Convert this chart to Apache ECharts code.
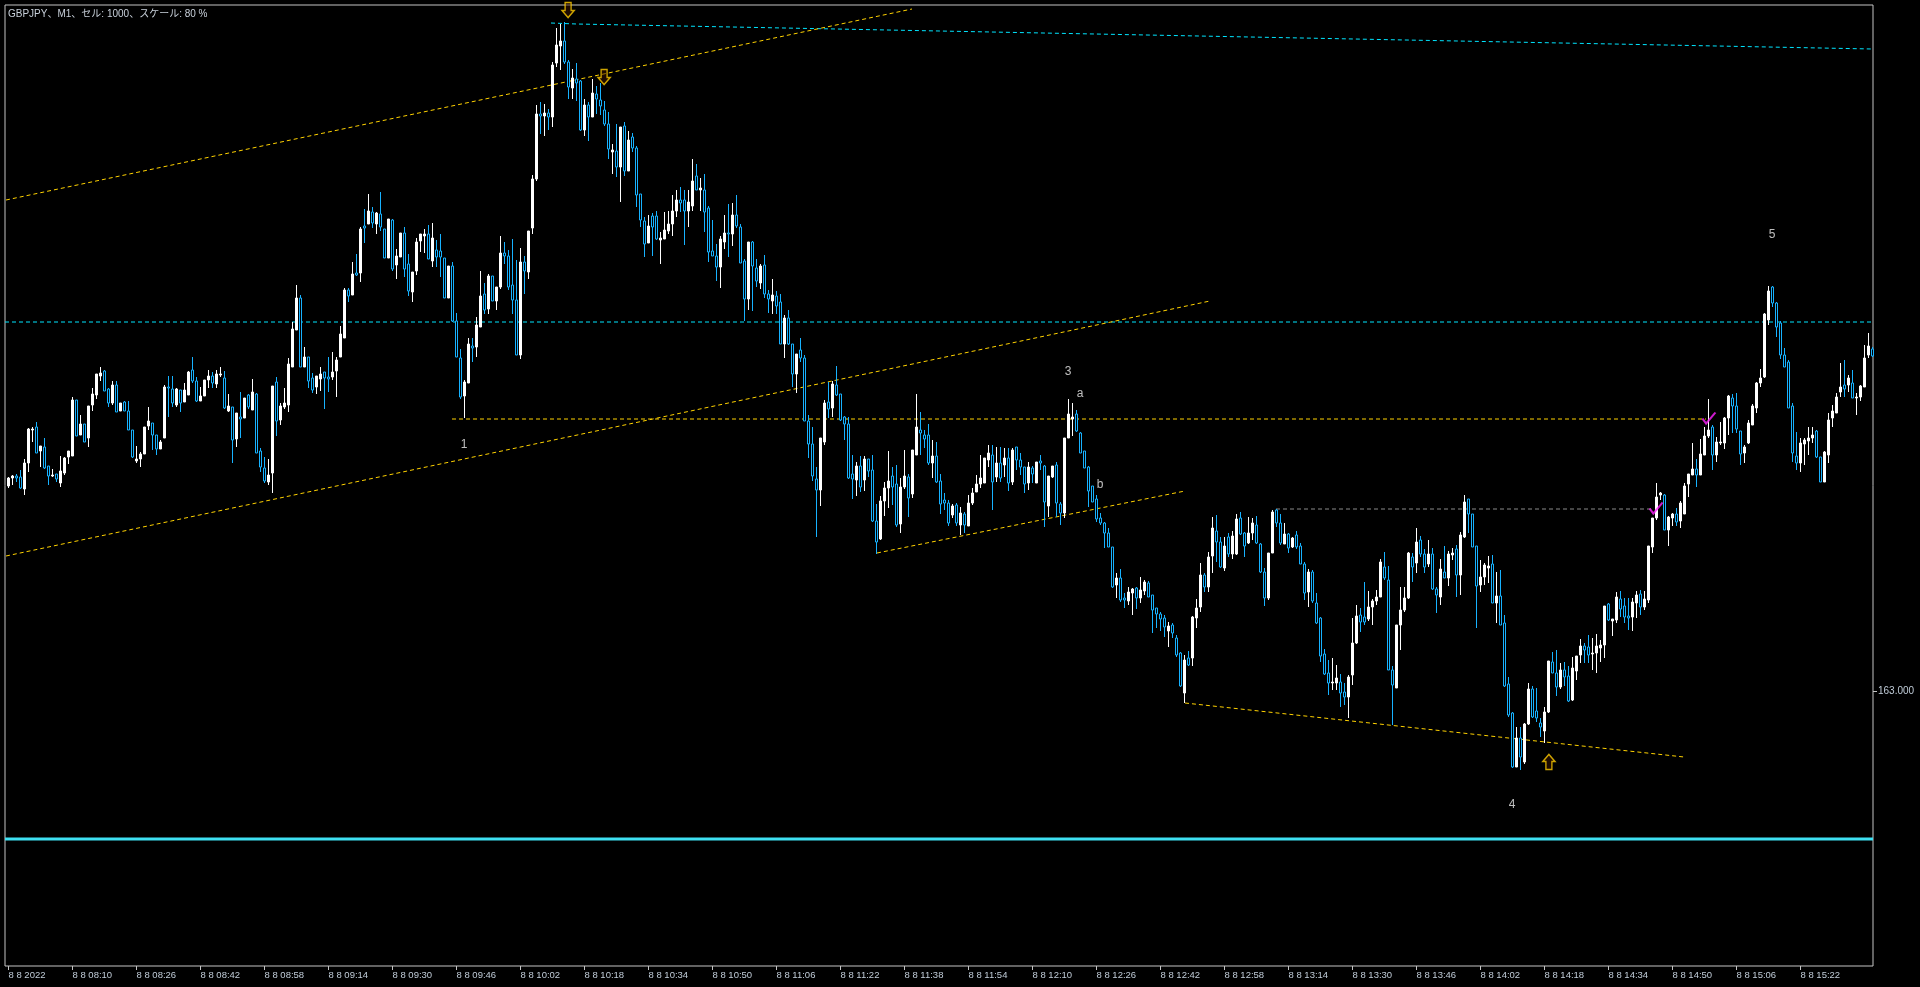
<!DOCTYPE html>
<html><head><meta charset="utf-8">
<script src="https://cdn.jsdelivr.net/npm/echarts@6/dist/echarts.min.js"></script>
<style>html,body{margin:0;padding:0;background:#000;overflow:hidden}#c{width:1920px;height:987px}</style>
</head><body><div id="c"></div>
<script>
const chartTitle = 'GBPJPY、M1、セル: 1000、スケール: 80 %';
const timeTickIndex = [0,16,32,48,64,80,96,112,128,144,160,176,192,208,224,240,256,272,288,304,320,336,352,368,384,400,416,432,448];
const timeTickLabels = ['8 8 2022','8 8 08:10','8 8 08:26','8 8 08:42','8 8 08:58','8 8 09:14','8 8 09:30','8 8 09:46','8 8 10:02','8 8 10:18','8 8 10:34','8 8 10:50','8 8 11:06','8 8 11:22','8 8 11:38','8 8 11:54','8 8 12:10','8 8 12:26','8 8 12:42','8 8 12:58','8 8 13:14','8 8 13:30','8 8 13:46','8 8 14:02','8 8 14:18','8 8 14:34','8 8 14:50','8 8 15:06','8 8 15:22'];
const priceTicks = [163];
// one M1 candle per minute from 07:54: [open, close, low, high]
const candles = [
[163.205,163.213,163.203,163.214],[163.213,163.215,163.206,163.216],[163.215,163.213,163.209,163.217],[163.214,163.203,163.202,163.221],[163.202,163.228,163.196,163.232],
[163.228,163.262,163.219,163.263],[163.261,163.262,163.249,163.264],[163.264,163.238,163.238,163.269],[163.240,163.245,163.224,163.245],[163.244,163.223,163.222,163.253],
[163.225,163.215,163.206,163.225],[163.215,163.216,163.214,163.222],[163.217,163.212,163.209,163.217],[163.208,163.220,163.204,163.235],[163.218,163.233,163.216,163.234],
[163.234,163.240,163.227,163.240],[163.235,163.291,163.235,163.294],[163.291,163.255,163.255,163.291],[163.256,163.267,163.256,163.276],[163.267,163.249,163.249,163.267],
[163.253,163.285,163.244,163.285],[163.286,163.297,163.280,163.303],[163.296,163.317,163.292,163.317],[163.315,163.318,163.310,163.324],[163.320,163.300,163.300,163.321],
[163.302,163.288,163.284,163.303],[163.288,163.306,163.286,163.310],[163.306,163.279,163.279,163.310],[163.280,163.288,163.280,163.288],[163.289,163.280,163.280,163.290],
[163.280,163.261,163.261,163.290],[163.261,163.234,163.233,163.261],[163.230,163.232,163.228,163.245],[163.232,163.237,163.224,163.239],[163.237,163.264,163.237,163.264],
[163.265,163.270,163.261,163.284],[163.268,163.256,163.241,163.268],[163.256,163.242,163.236,163.256],[163.242,163.249,163.242,163.251],[163.253,163.304,163.253,163.306],
[163.304,163.303,163.274,163.315],[163.302,163.288,163.284,163.315],[163.286,163.302,163.284,163.303],[163.301,163.288,163.279,163.301],[163.289,163.301,163.289,163.308],
[163.296,163.319,163.296,163.320],[163.321,163.310,163.308,163.334],[163.310,163.290,163.289,163.314],[163.290,163.295,163.290,163.304],[163.295,163.311,163.295,163.311],
[163.311,163.315,163.303,163.321],[163.315,163.308,163.303,163.319],[163.307,163.317,163.303,163.321],[163.316,163.317,163.314,163.324],[163.313,163.283,163.282,163.320],
[163.280,163.285,163.279,163.297],[163.284,163.251,163.228,163.284],[163.252,163.278,163.244,163.278],[163.274,163.272,163.253,163.299],[163.273,163.293,163.273,163.293],
[163.296,163.284,163.282,163.297],[163.281,163.299,163.281,163.312],[163.297,163.238,163.238,163.298],[163.240,163.224,163.219,163.243],[163.223,163.210,163.208,163.234],
[163.209,163.216,163.206,163.232],[163.218,163.305,163.198,163.305],[163.309,163.270,163.255,163.314],[163.271,163.285,163.266,163.288],[163.284,163.288,163.282,163.303],
[163.286,163.327,163.279,163.333],[163.324,163.362,163.324,163.369],[163.361,163.393,163.361,163.406],[163.393,163.324,163.324,163.396],[163.324,163.334,163.324,163.344],
[163.334,163.310,163.303,163.334],[163.313,163.301,163.298,163.318],[163.304,163.315,163.297,163.315],[163.312,163.317,163.300,163.324],[163.319,163.313,163.282,163.319],
[163.314,163.312,163.299,163.334],[163.314,163.319,163.311,163.339],[163.320,163.331,163.294,163.334],[163.334,163.357,163.334,163.365],[163.353,163.401,163.353,163.403],
[163.401,163.395,163.389,163.403],[163.396,163.417,163.396,163.429],[163.418,163.416,163.415,163.437],[163.418,163.462,163.409,163.464],[163.465,163.463,163.448,163.482],
[163.467,163.480,163.467,163.497],[163.479,163.468,163.463,163.484],[163.467,163.478,163.457,163.479],[163.477,163.464,163.460,163.499],[163.462,163.433,163.433,163.462],
[163.433,163.472,163.433,163.472],[163.471,163.422,163.420,163.472],[163.426,163.435,163.412,163.442],[163.434,163.458,163.434,163.458],[163.458,163.422,163.414,163.464],
[163.427,163.400,163.395,163.437],[163.399,163.419,163.389,163.419],[163.420,163.449,163.416,163.453],[163.450,163.457,163.439,163.457],[163.455,163.457,163.438,163.462],
[163.457,163.432,163.432,163.466],[163.430,163.453,163.424,163.468],[163.441,163.434,163.424,163.451],[163.440,163.434,163.414,163.457],[163.433,163.393,163.393,163.433],
[163.393,163.425,163.393,163.425],[163.425,163.370,163.369,163.429],[163.370,163.334,163.334,163.378],[163.333,163.294,163.292,163.342],[163.295,163.309,163.273,163.311],
[163.308,163.347,163.308,163.353],[163.345,163.343,163.329,163.353],[163.344,163.366,163.334,163.374],[163.364,163.395,163.364,163.420],[163.397,163.381,163.377,163.408],
[163.382,163.415,163.377,163.417],[163.415,163.390,163.390,163.415],[163.390,163.404,163.381,163.404],[163.404,163.438,163.402,163.455],[163.438,163.435,163.427,163.449],
[163.435,163.404,163.401,163.441],[163.406,163.391,163.377,163.452],[163.391,163.336,163.336,163.431],[163.336,163.429,163.332,163.443],[163.429,163.420,163.397,163.435],
[163.419,163.460,163.412,163.460],[163.463,163.512,163.457,163.516],[163.512,163.577,163.510,163.586],[163.577,163.575,163.557,163.589],[163.575,163.578,163.555,163.587],
[163.578,163.574,163.561,163.582],[163.574,163.626,163.564,163.629],[163.628,163.646,163.624,163.663],[163.645,163.650,163.621,163.667],[163.650,163.629,163.627,163.669],
[163.629,163.604,163.592,163.631],[163.603,163.613,163.592,163.622],[163.612,163.608,163.590,163.628],[163.610,163.561,163.560,163.611],[163.561,163.586,163.555,163.592],
[163.586,163.574,163.550,163.589],[163.574,163.598,163.574,163.612],[163.597,163.592,163.577,163.605],[163.591,163.585,163.576,163.608],[163.581,163.567,163.565,163.590],
[163.567,163.542,163.532,163.579],[163.539,163.541,163.517,163.547],[163.540,163.524,163.514,163.567],[163.524,163.564,163.489,163.564],[163.565,163.520,163.515,163.569],
[163.520,163.551,163.520,163.560],[163.554,163.543,163.539,163.558],[163.543,163.496,163.484,163.545],[163.497,163.471,163.464,163.497],[163.470,163.447,163.434,163.474],
[163.448,163.465,163.448,163.476],[163.475,163.464,163.435,163.478],[163.475,163.452,163.451,163.480],[163.451,163.453,163.427,163.459],[163.452,163.461,163.452,163.479],
[163.460,163.467,163.457,163.480],[163.467,163.480,163.455,163.496],[163.480,163.491,163.474,163.501],[163.491,163.488,163.479,163.504],[163.491,163.480,163.446,163.501],
[163.480,163.489,163.464,163.501],[163.485,163.510,163.480,163.532],[163.515,163.501,163.501,163.527],[163.501,163.503,163.480,163.513],[163.501,163.479,163.459,163.517],
[163.483,163.439,163.429,163.485],[163.440,163.435,163.435,163.471],[163.435,163.424,163.410,163.447],[163.424,163.452,163.403,163.455],[163.449,163.458,163.442,163.476],
[163.458,163.457,163.434,163.487],[163.457,163.476,163.445,163.488],[163.476,163.465,163.463,163.496],[163.464,163.428,163.428,163.467],[163.430,163.392,163.370,163.432],
[163.392,163.449,163.381,163.449],[163.449,163.425,163.380,163.450],[163.423,163.410,163.404,163.432],[163.408,163.425,163.402,163.427],[163.426,163.397,163.393,163.436],
[163.397,163.392,163.378,163.401],[163.390,163.396,163.377,163.412],[163.395,163.385,163.377,163.400],[163.389,163.347,163.347,163.397],[163.347,163.373,163.333,163.376],
[163.373,163.347,163.346,163.381],[163.347,163.317,163.304,163.347],[163.317,163.337,163.298,163.337],[163.341,163.333,163.329,163.353],[163.333,163.270,163.270,163.336],
[163.270,163.247,163.233,163.276],[163.247,163.215,163.210,163.264],[163.212,163.201,163.154,163.224],[163.201,163.253,163.185,163.253],[163.249,163.288,163.246,163.291],
[163.289,163.282,163.273,163.309],[163.283,163.307,163.274,163.310],[163.306,163.296,163.295,163.325],[163.297,163.271,163.270,163.297],[163.274,163.267,163.251,163.275],
[163.267,163.213,163.212,163.274],[163.217,163.212,163.192,163.236],[163.211,163.225,163.195,163.229],[163.225,163.204,163.199,163.235],[163.211,163.232,163.200,163.235],
[163.232,163.220,163.214,163.232],[163.221,163.170,163.169,163.236],[163.170,163.149,163.137,163.187],[163.152,163.190,163.151,163.195],[163.190,163.203,163.175,163.209],
[163.203,163.210,163.183,163.240],[163.215,163.204,163.186,163.224],[163.207,163.166,163.164,163.226],[163.167,163.204,163.158,163.213],[163.204,163.215,163.202,163.241],
[163.214,163.193,163.174,163.217],[163.197,163.241,163.193,163.241],[163.236,163.264,163.236,163.297],[163.261,163.258,163.236,163.279],[163.256,163.252,163.243,163.261],
[163.256,163.228,163.226,163.267],[163.228,163.235,163.213,163.251],[163.235,163.209,163.208,163.249],[163.210,163.187,163.177,163.217],[163.191,163.188,163.181,163.198],
[163.188,163.168,163.165,163.191],[163.176,163.185,163.173,163.187],[163.186,163.168,163.165,163.188],[163.166,163.178,163.156,163.184],[163.177,163.166,163.158,163.179],
[163.165,163.188,163.165,163.196],[163.188,163.198,163.186,163.203],[163.199,163.207,163.199,163.216],[163.207,163.213,163.203,163.236],[163.208,163.233,163.208,163.233],
[163.231,163.238,163.224,163.246],[163.236,163.209,163.181,163.246],[163.214,163.228,163.209,163.244],[163.228,163.213,163.209,163.244],[163.226,163.233,163.214,163.243],
[163.233,163.208,163.200,163.243],[163.209,163.241,163.206,163.243],[163.244,163.231,163.221,163.244],[163.231,163.224,163.216,163.238],[163.224,163.207,163.198,163.224],
[163.208,163.224,163.201,163.229],[163.223,163.217,163.208,163.225],[163.208,163.229,163.208,163.229],[163.230,163.228,163.221,163.236],[163.225,163.189,163.164,163.226],
[163.185,163.215,163.174,163.215],[163.214,163.225,163.213,163.225],[163.226,163.188,163.174,163.229],[163.187,163.178,163.166,163.189],[163.178,163.253,163.173,163.253],
[163.253,163.277,163.253,163.292],[163.272,163.274,163.255,163.288],[163.277,163.260,163.259,163.281],[163.258,163.238,163.238,163.259],[163.240,163.223,163.223,163.240],
[163.224,163.200,163.184,163.225],[163.205,163.189,163.189,163.205],[163.192,163.172,163.169,163.196],[163.173,163.168,163.166,163.178],[163.168,163.158,163.143,163.169],
[163.158,163.144,163.144,163.163],[163.144,163.104,163.103,163.144],[163.106,163.113,163.093,163.118],[163.113,163.091,163.089,163.122],[163.093,163.091,163.083,163.098],
[163.090,163.099,163.086,163.104],[163.098,163.102,163.076,163.103],[163.103,163.093,163.082,163.104],[163.093,163.101,163.088,163.114],[163.100,163.109,163.096,163.111],
[163.108,163.094,163.094,163.110],[163.096,163.081,163.058,163.096],[163.083,163.077,163.063,163.083],[163.077,163.072,163.060,163.079],[163.073,163.064,163.054,163.076],
[163.060,163.065,163.044,163.069],[163.066,163.058,163.053,163.068],[163.053,163.036,163.034,163.056],[163.038,163.005,163.004,163.039],[162.998,163.031,162.988,163.036],
[163.033,163.026,163.025,163.040],[163.033,163.074,163.025,163.075],[163.073,163.083,163.063,163.092],[163.084,163.116,163.079,163.128],[163.116,163.104,163.099,163.118],
[163.104,163.134,163.099,163.139],[163.135,163.163,163.118,163.174],[163.160,163.149,163.129,163.176],[163.149,163.124,163.123,163.154],[163.123,163.145,163.120,163.154],
[163.154,163.137,163.134,163.158],[163.137,163.155,163.132,163.160],[163.137,163.172,163.136,163.177],[163.173,163.157,163.156,163.179],[163.158,163.145,163.134,163.159],
[163.148,163.158,163.147,163.174],[163.158,163.168,163.151,163.173],[163.166,163.148,163.147,163.175],[163.147,163.119,163.118,163.148],[163.119,163.093,163.085,163.123],
[163.093,163.138,163.091,163.138],[163.138,163.179,163.138,163.181],[163.181,163.168,163.164,163.182],[163.168,163.148,163.146,163.177],[163.147,163.157,163.147,163.168],
[163.157,163.143,163.138,163.158],[163.144,163.153,163.143,163.154],[163.156,163.144,163.142,163.160],[163.145,163.127,163.127,163.148],[163.127,163.098,163.091,163.129],
[163.099,163.119,163.084,163.122],[163.119,163.090,163.088,163.121],[163.088,163.068,163.067,163.098],[163.073,163.035,163.029,163.074],[163.037,163.017,163.016,163.042],
[163.018,163.008,162.996,163.031],[163.008,163.009,163.001,163.033],[163.008,163.013,163.001,163.026],[163.009,162.998,162.984,163.017],[162.999,162.994,162.986,163.008],
[162.994,163.014,162.973,163.016],[163.016,163.048,163.006,163.073],[163.048,163.075,163.047,163.086],[163.076,163.069,163.059,163.083],[163.074,163.069,163.066,163.109],
[163.072,163.084,163.070,163.100],[163.084,163.090,163.066,163.092],[163.090,163.094,163.086,163.101],[163.094,163.129,163.094,163.132],[163.124,163.113,163.111,163.139],
[163.111,163.021,163.021,163.125],[163.021,163.006,162.966,163.025],[163.003,163.066,163.003,163.066],[163.066,163.081,163.041,163.104],[163.081,163.093,163.079,163.104],
[163.093,163.138,163.092,163.139],[163.134,163.124,163.109,163.138],[163.128,163.149,163.118,163.163],[163.151,163.137,163.134,163.155],[163.137,163.124,163.118,163.142],
[163.127,163.137,163.124,163.151],[163.137,163.102,163.101,163.143],[163.102,163.096,163.078,163.104],[163.094,163.122,163.086,163.132],[163.119,163.113,163.113,163.145],
[163.113,163.137,163.105,163.140],[163.136,163.138,163.131,163.143],[163.142,163.116,163.094,163.146],[163.116,163.156,163.096,163.159],[163.154,163.189,163.153,163.196],
[163.192,163.177,163.158,163.192],[163.177,163.144,163.144,163.177],[163.145,163.105,163.063,163.145],[163.106,163.114,163.099,163.131],[163.114,163.126,163.106,163.128],
[163.123,163.125,163.108,163.135],[163.127,163.088,163.088,163.136],[163.088,163.095,163.068,163.119],[163.095,163.066,163.066,163.121],[163.068,163.005,163.004,163.076],
[163.007,162.976,162.974,163.014],[162.978,162.924,162.923,162.979],[162.924,162.953,162.924,162.964],[162.953,162.934,162.921,162.964],[162.929,162.967,162.927,162.968],
[162.967,163.002,162.966,163.008],[163.002,162.974,162.973,163.005],[162.980,162.973,162.969,163.003],[162.968,162.964,162.954,162.973],[162.960,162.979,162.948,162.984],
[162.979,163.030,162.978,163.030],[163.029,163.018,163.018,163.039],[163.018,163.004,162.995,163.041],[163.004,163.021,163.002,163.028],[163.021,163.014,163.005,163.029],
[163.015,162.990,162.989,163.025],[162.991,163.023,162.990,163.034],[163.020,163.035,163.011,163.035],[163.036,163.045,163.028,163.052],[163.045,163.041,163.028,163.048],
[163.044,163.036,163.028,163.056],[163.037,163.038,163.021,163.053],[163.038,163.045,163.018,163.057],[163.043,163.046,163.029,163.051],[163.046,163.085,163.033,163.085],
[163.087,163.071,163.070,163.088],[163.070,163.072,163.055,163.072],[163.071,163.094,163.068,163.099],[163.092,163.082,163.074,163.100],[163.085,163.074,163.068,163.093],
[163.075,163.073,163.061,163.093],[163.074,163.089,163.060,163.093],[163.088,163.096,163.073,163.100],[163.097,163.084,163.076,163.101],[163.084,163.092,163.081,163.100],
[163.091,163.145,163.088,163.145],[163.144,163.173,163.138,163.173],[163.173,163.194,163.171,163.208],[163.196,163.198,163.191,163.199],[163.196,163.161,163.161,163.197],
[163.161,163.174,163.145,163.175],[163.173,163.177,163.165,163.178],[163.177,163.169,163.165,163.183],[163.170,163.188,163.163,163.190],[163.177,163.205,163.177,163.208],
[163.207,163.217,163.194,163.217],[163.216,163.222,163.216,163.248],[163.222,163.216,163.204,163.232],[163.216,163.237,163.216,163.252],[163.236,163.255,163.236,163.264],
[163.255,163.261,163.253,163.292],[163.264,163.236,163.221,163.266],[163.236,163.249,163.229,163.254],[163.248,163.249,163.246,163.269],[163.248,163.273,163.242,163.274],
[163.273,163.295,163.256,163.296],[163.293,163.285,163.258,163.297],[163.285,163.262,163.258,163.298],[163.260,163.237,163.226,163.260],[163.238,163.244,163.228,163.246],
[163.248,163.268,163.247,163.271],[163.266,163.285,163.266,163.287],[163.283,163.308,163.278,163.309],[163.308,163.313,163.304,163.322],[163.314,163.377,163.313,163.378],
[163.371,163.400,163.366,163.405],[163.404,163.388,163.384,163.405],[163.388,163.364,163.354,163.389],[163.368,163.336,163.332,163.370],[163.336,163.324,163.324,163.343],
[163.329,163.283,163.283,163.331],[163.285,163.238,163.229,163.288],[163.235,163.228,163.221,163.259],[163.228,163.248,163.219,163.253],[163.247,163.251,163.226,163.253],
[163.250,163.253,163.236,163.264],[163.253,163.256,163.248,163.264],[163.260,163.234,163.233,163.261],[163.234,163.209,163.209,163.234],[163.209,163.239,163.209,163.240],
[163.236,163.271,163.228,163.278],[163.273,163.280,163.264,163.286],[163.278,163.294,163.278,163.298],[163.299,163.304,163.294,163.328],[163.306,163.302,163.294,163.331],
[163.306,163.313,163.299,163.316],[163.308,163.293,163.293,163.321],[163.293,163.294,163.276,163.298],[163.294,163.305,163.290,163.306],[163.304,163.333,163.304,163.346],
[163.336,163.345,163.333,163.358],[163.342,163.335,163.334,163.344]
];
// drawn trend lines, [minute index, price]
const channelUpper = [[-0.625,163.491],[225.875,163.682]];
const channelLower = [[-0.625,163.135],[300.375,163.390]];
const channelSmall = [[217.125,163.138],[294.125,163.200]];
const supportLine = [[294.125,162.988],[418.875,162.934]];
const levelYellow = [[110.875,163.272],[424.375,163.272]];
const levelGray = [[316.875,163.182],[411.125,163.182]];
const levelCyanDash = [[-0.875,163.369],[466.125,163.369]];
const slopeCyan = [[135.625,163.668],[142,163.667],[465.875,163.642]];
const levelCyanSolid = [[-0.875,162.852],[466.125,162.852]];
const arrowsDown = [[139.9,163.681],[148.9,163.614]];
const arrowsUp = [[385.1,162.929]];
const checkMarks = [[411.9,163.183],[425.1,163.273]];
const waveLabels = [[113.9,163.246,'1'],[264.9,163.319,'3'],[267.9,163.297,'a'],[272.9,163.206,'b'],[375.9,162.886,'4'],[440.9,163.456,'5']];

const fontUI = '"Liberation Sans","Noto Sans CJK JP",sans-serif';
const axisText = '#c0ccd8';
const chart = echarts.init(document.getElementById('c'), null, {renderer:'canvas'});
const candleData = candles.map((c, i) => [i, c[0], c[1], c[2], c[3]]);
function dashed(data, color, width, dash) {
  return {type:'line', data, symbol:'none', silent:true, animation:false, z:3,
    lineStyle:{color, width, type: dash || 'solid'}};
}
chart.setOption({
  backgroundColor:'#000000',
  animation:false,
  title:{text:chartTitle, left:8, top:9, padding:0,
    textStyle:{color:'#c8d0da', fontSize:10, fontWeight:'normal', fontFamily:fontUI}},
  grid:{left:5, right:47, top:5, bottom:21, show:true, borderColor:'#c4c4c4', borderWidth:1,
    backgroundColor:'#000000', containLabel:false, outerBoundsMode:'none'},
  xAxis:{type:'value', min:-0.875, max:466.125, splitLine:{show:false},
    axisLine:{show:false, onZero:false},
    axisTick:{show:true, length:4, lineStyle:{color:'#c4c4c4'}, customValues:timeTickIndex},
    axisLabel:{show:true, customValues:timeTickIndex, align:'left', margin:5, color:axisText,
      fontSize:9.5, fontFamily:fontUI,
      formatter:v => timeTickLabels[timeTickIndex.indexOf(Math.round(v))] || ''}},
  yAxis:{type:'value', position:'right', min:162.725, max:163.686, scale:true,
    splitLine:{show:false}, axisLine:{show:false, onZero:false},
    axisTick:{show:true, length:4, lineStyle:{color:'#c4c4c4'}, customValues:priceTicks},
    axisLabel:{show:true, customValues:priceTicks, margin:5, color:axisText, fontSize:10,
      fontFamily:fontUI, formatter:v => v.toFixed(3)}},
  series:[
    dashed(levelCyanSolid, '#3ee0f2', 3),
    dashed(levelCyanDash, '#00e5ff', 1, [4,3]),
    dashed(slopeCyan, '#00e5ff', 1, [4,3]),
    dashed(channelUpper, '#ffd200', 1, [4,3]),
    dashed(channelLower, '#ffd200', 1, [4,3]),
    dashed(channelSmall, '#ffd200', 1, [4,3]),
    dashed(supportLine, '#ffd200', 1, [4,3]),
    dashed(levelYellow, '#ffd200', 1, [4,3]),
    dashed(levelGray, '#8a8a8a', 1, [4,3]),
    {type:'candlestick', data:candleData, encode:{x:0, y:[1,2,3,4]}, barWidth:3, z:5,
      animation:false, silent:true,
      itemStyle:{color:'#ffffff', color0:'#000000', borderColor:'#ffffff', borderColor0:'#17b2ff', borderWidth:1}},
    {type:'scatter', data:arrowsDown, z:8, silent:true,
      symbol:'path://M3,0 L9,0 L9,8 L12,8 L6,15 L0,8 L3,8 Z', symbolSize:[12,15],
      itemStyle:{color:'rgba(60,20,0,0.6)', borderColor:'#ffcc00', borderWidth:1.5}},
    {type:'scatter', data:arrowsUp, z:8, silent:true,
      symbol:'path://M3,15 L9,15 L9,7 L12,7 L6,0 L0,7 L3,7 Z', symbolSize:[12,15],
      itemStyle:{color:'rgba(60,20,0,0.6)', borderColor:'#ffcc00', borderWidth:1.5}},
    {type:'scatter', data:checkMarks, z:8, silent:true,
      symbol:'path://M0,6 L4,11 L14,0', symbolSize:[13,11],
      itemStyle:{color:'transparent', borderColor:'#ff20ff', borderWidth:2}},
    {type:'scatter', data:waveLabels, z:8, silent:true, symbolSize:1,
      itemStyle:{color:'transparent'},
      label:{show:true, position:'inside', formatter:p => p.data[2], color:'#ececec',
        fontSize:12, fontFamily:fontUI}}
  ]
});
</script></body></html>
